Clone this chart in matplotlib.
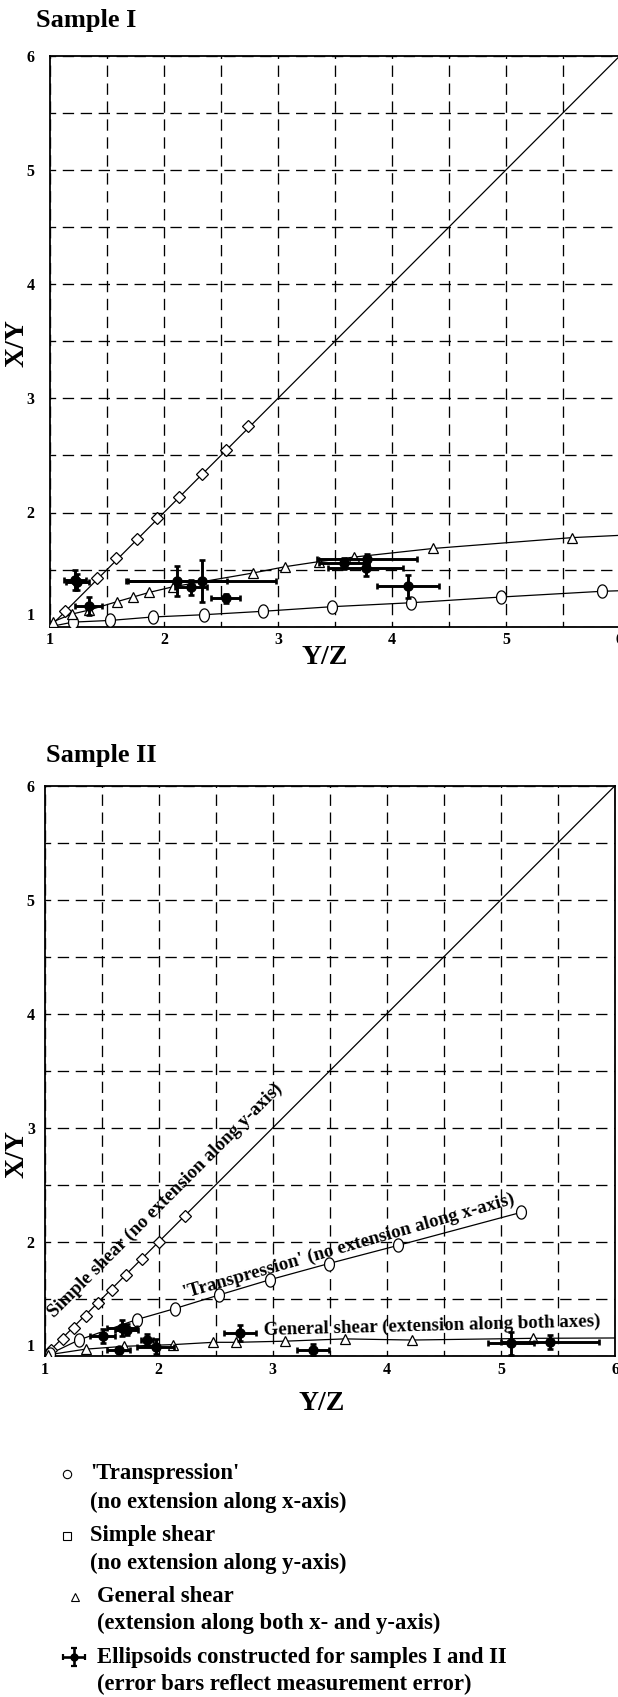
import numpy as np
import matplotlib
matplotlib.use("Agg")
import matplotlib.pyplot as plt
from matplotlib import transforms

plt.rcParams['font.family'] = ['Liberation Serif', 'DejaVu Serif']
plt.rcParams['font.weight'] = 'bold'
plt.rcParams['axes.labelweight'] = 'bold'

# ---- Sample I ----
s1_simple_x = [1.13, 1.41, 1.58, 1.76, 1.94, 2.13, 2.33, 2.54, 2.74]
s1_simple_y = [1.14, 1.43, 1.60, 1.77, 1.95, 2.14, 2.34, 2.55, 2.76]
s1_trans_x = [1.20, 1.53, 1.90, 2.35, 2.87, 3.47, 4.17, 4.96, 5.84]
s1_trans_y = [1.04, 1.055, 1.085, 1.105, 1.135, 1.175, 1.21, 1.26, 1.31]
s1_trans_end = (6.0, 1.315)
s1_gen_x = [1.03, 1.19, 1.34, 1.59, 1.73, 1.87, 2.08, 2.78, 3.06, 3.36, 3.67, 4.36, 5.58]
s1_gen_y = [1.045, 1.11, 1.145, 1.22, 1.26, 1.30, 1.35, 1.47, 1.525, 1.57, 1.61, 1.685, 1.78]
s1_gen_end = (6.0, 1.80)
s1_ell_x = [1.22, 1.24, 1.34, 2.11, 2.24, 2.33, 2.54, 3.58, 3.78, 3.77, 4.14]
s1_ell_y = [1.41, 1.39, 1.18, 1.40, 1.345, 1.40, 1.25, 1.555, 1.59, 1.51, 1.355]
s1_ell_xerr = [0.10, 0.10, 0.12, 0.44, 0.14, 0.65, 0.13, 0.22, 0.44, 0.33, 0.27]
s1_ell_yerr = [0.09, 0.07, 0.08, 0.13, 0.065, 0.18, 0.04, 0.05, 0.05, 0.07, 0.10]

# ---- Sample II ----
s2_simple_x = [1.06, 1.16, 1.26, 1.36, 1.47, 1.59, 1.715, 1.855, 2.0, 2.23]
s2_simple_y = [1.055, 1.15, 1.245, 1.355, 1.465, 1.58, 1.71, 1.85, 2.0, 2.225]
s2_trans_x = [1.05, 1.30, 1.81, 2.14, 2.53, 2.98, 3.49, 4.10, 5.18]
s2_trans_y = [1.02, 1.14, 1.32, 1.415, 1.535, 1.67, 1.81, 1.97, 2.26]
s2_gen_x = [1.03, 1.36, 1.70, 2.13, 2.48, 2.68, 3.11, 3.63, 4.22, 5.28]
s2_gen_y = [1.01, 1.06, 1.085, 1.10, 1.12, 1.12, 1.13, 1.15, 1.14, 1.155]
s2_gen_end = (6.0, 1.158)
s2_ell_x = [1.51, 1.68, 1.72, 1.65, 1.90, 1.975, 2.71, 3.355, 5.09, 5.43]
s2_ell_y = [1.175, 1.245, 1.23, 1.053, 1.14, 1.082, 1.20, 1.053, 1.11, 1.125]
s2_ell_xerr = [0.11, 0.13, 0.10, 0.10, 0.05, 0.16, 0.14, 0.14, 0.20, 0.43]
s2_ell_yerr = [0.06, 0.07, 0.05, 0.03, 0.055, 0.065, 0.07, 0.05, 0.10, 0.06]

simple_line = [1, 6]
ticks = [1, 2, 3, 4, 5, 6]
tick_labels = ['1', '2', '3', '4', '5', '6']

W, H = 618, 1697
fig = plt.figure(figsize=(W / 100, H / 100), dpi=100)

# slightly upright ellipse marker for the 'transpression' symbols
th = np.linspace(0, 2 * np.pi, 41)
ellipse = list(zip(0.75 * np.cos(th), np.sin(th)))

grid_style = (4.3, (8.6, 5.0))


def setup(ax, ypad, lab_shift):
    ax.set_xlim(1, 6)
    ax.set_ylim(1, 6)
    ax.set_xticks(ticks)
    ax.set_xticklabels(tick_labels, fontweight='bold', fontsize=11.5)
    ax.set_yticks(ticks)
    ax.set_yticklabels(tick_labels, fontweight='bold', fontsize=11.5)
    ax.set_xticks(np.arange(1.5, 6, 1.0), minor=True)
    ax.set_yticks(np.arange(1.5, 6, 1.0), minor=True)
    ax.tick_params(which='both', length=0)
    ax.tick_params(axis='x', pad=4)
    ax.tick_params(axis='y', pad=ypad)
    ax.grid(which='both', color='black', lw=0.95, linestyle=grid_style)
    ax.set_axisbelow(True)
    for sp in ax.spines.values():
        sp.set_linewidth(1.3)
    lab = ax.get_yticklabels()[0]
    lab.set_transform(lab.get_transform() +
                      transforms.ScaledTranslation(0, lab_shift / 100, fig.dpi_scale_trans))


def model_curves(ax, sx, sy, tx, ty, gx, gy, t_end=None, g_end=None):
    ax.plot(simple_line, simple_line, color='black', lw=0.9, zorder=3)
    ax.plot(sx, sy, ls='none', marker='D', ms=6.5, mfc='white', mec='black', mew=0.9, zorder=4)
    lx = [1] + list(tx) + ([t_end[0]] if t_end else [])
    ly = [1] + list(ty) + ([t_end[1]] if t_end else [])
    ax.plot(lx, ly, color='black', lw=0.9, zorder=3)
    ax.plot(tx, ty, ls='none', marker=ellipse, ms=9.5, mfc='white', mec='black', mew=0.9, zorder=4)
    lx = [1] + list(gx) + ([g_end[0]] if g_end else [])
    ly = [1] + list(gy) + ([g_end[1]] if g_end else [])
    ax.plot(lx, ly, color='black', lw=0.9, zorder=3)
    ax.plot(gx, gy, ls='none', marker='^', ms=7, mfc='white', mec='black', mew=0.9, zorder=4)


def ellipsoids(ax, x, y, xe, ye):
    ax.errorbar(x, y, xerr=xe, yerr=ye, fmt='o', color='black', ms=6.5,
                elinewidth=2.1, capsize=2.5, capthick=1.9, zorder=5)


# ---------------- Sample I ----------------
ax1 = fig.add_axes([50 / W, 1 - 626.7 / H, 570 / W, 571 / H])
setup(ax1, 11, 12.7)
model_curves(ax1, s1_simple_x, s1_simple_y, s1_trans_x, s1_trans_y,
             s1_gen_x, s1_gen_y, s1_trans_end, s1_gen_end)
ellipsoids(ax1, s1_ell_x, s1_ell_y, s1_ell_xerr, s1_ell_yerr)
ax1.set_xlabel('Y/Z', fontsize=20, fontweight='bold', va='center')
ax1.xaxis.set_label_coords((325 - 50) / 570, (626.7 - 657) / 571)
ax1.set_ylabel('X/Y', fontsize=20, fontweight='bold', va='center')
ax1.yaxis.set_label_coords((17 - 50) / 570, (626.7 - 343) / 571)
fig.text(35.5 / W, 1 - 27 / H, 'Sample I', fontsize=19, fontweight='bold', va='baseline', ha='left')

# ---------------- Sample II ----------------
ax2 = fig.add_axes([44.5 / W, 1 - 1356 / H, 570.5 / W, 570.3 / H])
setup(ax2, 7, 11)
model_curves(ax2, s2_simple_x, s2_simple_y, s2_trans_x, s2_trans_y,
             s2_gen_x, s2_gen_y, None, s2_gen_end)
ellipsoids(ax2, s2_ell_x, s2_ell_y, s2_ell_xerr, s2_ell_yerr)
ax2.set_xlabel('Y/Z', fontsize=20, fontweight='bold', va='center')
ax2.xaxis.set_label_coords((322 - 44.5) / 570.5, (1356 - 1404) / 570.3)
ax2.set_ylabel('X/Y', fontsize=20, fontweight='bold', va='center')
ax2.yaxis.set_label_coords((17 - 44.5) / 570.5, (1356 - 1154) / 570.3)
fig.text(46.5 / W, 1 - 762 / H, 'Sample II', fontsize=19, fontweight='bold', va='baseline', ha='left')

ann = dict(fontsize=13.6, fontweight='bold', rotation_mode='anchor', ha='left', va='baseline', zorder=6)
ax2.text(1.08, 1.33, 'Simple shear (no extension along y-axis)', rotation=45, **ann)
ax2.text(2.23, 1.51, "'Transpression' (no extension along x-axis)", rotation=16, **ann)
ax2.text(2.92, 1.185, 'General shear (extension along both axes)', rotation=1.5, **ann)

# ---------------- key ----------------
lg = fig.add_axes([0, 0, 1, 1])
lg.set_xlim(0, W)
lg.set_ylim(H, 0)
lg.axis('off')
lg.patch.set_alpha(0)

lg.plot([67], [1474], 'o', ms=6, mfc='white', mec='black', mew=0.8)
lg.plot([67], [1536], 's', ms=5.5, mfc='white', mec='black', mew=0.8)
lg.plot([75], [1597], '^', ms=6, mfc='white', mec='black', mew=0.8)
lg.errorbar([73.6], [1657], xerr=[11], yerr=[9], fmt='o', color='black', ms=5,
            elinewidth=1.9, capsize=2.5, capthick=1.6)

key_fs = 16.3
key_lines = [
    (90, 1474, "'Transpression'"),
    (90, 1502, "(no extension along x-axis)"),
    (90, 1536, "Simple shear"),
    (90, 1563, "(no extension along y-axis)"),
    (97.4, 1597, "General shear"),
    (97.4, 1623, "(extension along both x- and y-axis)"),
    (97.4, 1657, "Ellipsoids constructed for samples I and II"),
    (97.4, 1684, "(error bars reflect measurement error)"),
]
for x, y, s in key_lines:
    lg.text(x, y, s, fontsize=key_fs, fontweight='bold', ha='left', va='center')

fig.savefig('out.png', dpi=100)
